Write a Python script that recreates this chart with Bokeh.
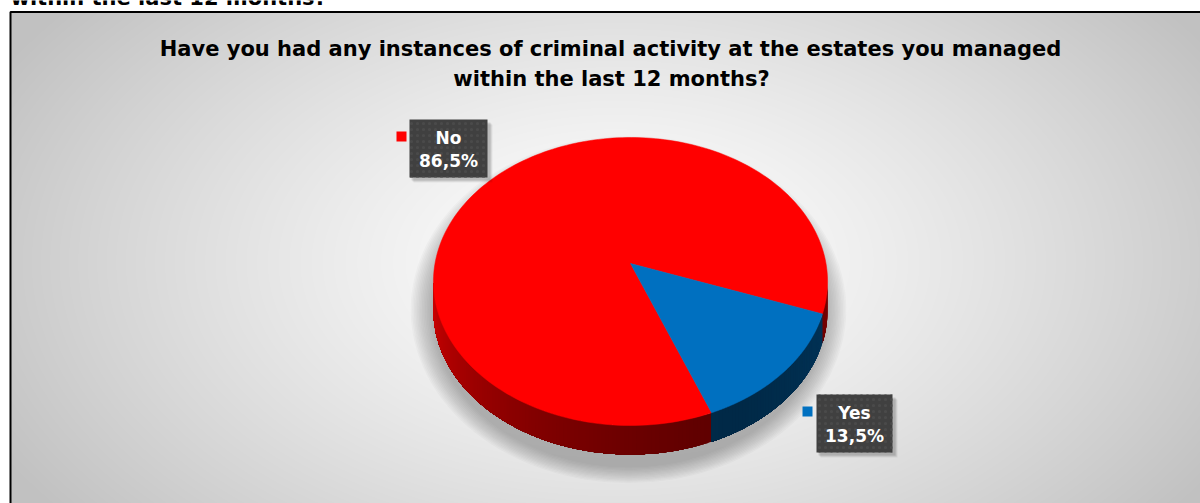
import numpy as np
from bokeh.plotting import figure
from bokeh.models import Range1d
from bokeh.core.properties import value
from bokeh.embed import file_html
from bokeh.resources import INLINE

# ---------------- data ----------------
title_lines = ["Have you had any instances of criminal activity at the estates you managed",
               "within the last 12 months?"]
clipped_heading = "within the last 12 months?"
categories = ["No", "Yes"]
shares = [86.5, 13.5]
share_labels = ["86,5%", "13,5%"]
slice_colors = ["#ff0000", "#0070c0"]
slice_rgb = [(255, 0, 0), (0, 112, 192)]

# ---------------- layout / style ----------------
W, H = 1200, 503
FONT = value("DejaVu Sans")
first_slice_angle = 158.5          # degrees clockwise from 12 o'clock
cx, cy = 630.0, 263.0              # projected pie centre (pixels)
A, B, K = 195.5, 141.75, 0.125     # perspective ellipse parameters
DEPTH = 29.0                       # pie thickness (pixels)

p = figure(width=W, height=H, x_range=Range1d(0, W), y_range=Range1d(H, 0),
           output_backend="svg", toolbar_location=None, min_border=0,
           x_axis_type=None, y_axis_type=None)
p.grid.visible = False
p.outline_line_color = None
p.background_fill_color = "white"
p.border_fill_color = "white"

# ---------------- background radial gradient ----------------
bx0, by0, bx1, by1 = 10, 11, 1200, 503
nx, ny = bx1 - bx0, by1 - by0
gx = np.arange(nx) + bx0 + 0.5
gy = np.arange(ny) + by0 + 0.5
GX, GY = np.meshgrid(gx, gy)
r = np.sqrt(((GX - 615) / 700.0) ** 2 + ((GY - 262) / 420.0) ** 2)
g = (255 - 62 * np.clip(r, 0, 1) ** 1.3).astype(np.uint8)
img = np.empty((ny, nx), dtype=np.uint32)
view = img.view(dtype=np.uint8).reshape((ny, nx, 4))
view[..., 0] = g
view[..., 1] = g
view[..., 2] = g
view[..., 3] = 255
p.image_rgba(image=[img], x=bx0, y=by0, dw=nx, dh=ny)

# frame border
p.line(x=[10, 10, 1201], y=[504, 11.5, 11.5], line_color="black", line_width=2)

# ---------------- pie geometry ----------------
def proj(phi_deg):
    ph = np.radians(phi_deg)
    X = np.cos(ph)
    Z = np.sin(ph)
    w = 1 - K * Z
    return cx + A * X / w, cy + B * Z / w

total = float(sum(shares))
starts, ends = [], []
acc = first_slice_angle
for s in shares:
    starts.append(acc - 90)
    acc += 360.0 * s / total
    ends.append(acc - 90)

# soft shadow under the pie
for i in range(14):
    p.ellipse(x=628, y=309, width=394 + 3.2 * i, height=316 + 2.4 * i,
              fill_color="#6a6a6a", fill_alpha=0.04, line_color=None)

# side wall: visible front arc, split by slice, shaded with overlapping bands
phi_lo = np.degrees(np.arcsin(K))
phi_hi = 180 - phi_lo

def shade(pm):
    if pm >= 60:
        t = min(1.0, (pm - 60) / (phi_hi - 60))
        return 0.37 + 0.45 * t ** 1.6
    return 0.37 + 0.1 * (60 - pm) / 53.0

for s0, e0, rgb in zip(starts, ends, slice_rgb):
    for off in (-360, 0, 360):
        a0 = max(s0 + off, phi_lo)
        a1 = min(e0 + off, phi_hi)
        if a1 <= a0:
            continue
        n = max(2, int((a1 - a0) / 1.0))
        marks = np.linspace(a0, a1, n + 1)
        xs_l, ys_l, cols = [], [], []
        for m in marks[:-1]:
            arc = np.linspace(m, a1, max(3, int((a1 - m) * 2)))
            ax, ay = proj(arc)
            xs_l.append(np.concatenate([ax, ax[::-1]]))
            ys_l.append(np.concatenate([ay, ay[::-1] + DEPTH]))
            f = shade(m + 0.5)
            cols.append("#%02x%02x%02x" % tuple(int(c * f) for c in rgb))
        p.patches(xs=xs_l, ys=ys_l, fill_color=cols, line_color=None)

# top faces
for s0, e0, col in zip(starts, ends, slice_colors):
    ang = np.linspace(s0, e0, 200)
    ax, ay = proj(ang)
    p.patch(x=np.concatenate([[cx], ax]), y=np.concatenate([[cy], ay]),
            fill_color=col, line_color=col, line_width=0.5)

# ---------------- data labels ----------------
label_boxes = [(409, 487, 119, 177), (816, 892, 394, 452)]
marker_boxes = [(396, 406, 131, 141), (802, 812, 406, 416)]
for (l, rr, t, b), (ml, mr, mt, mb), name, lab, col in zip(label_boxes, marker_boxes,
                                                         categories, share_labels, slice_colors):
    for d, al in ((5, 0.06), (4, 0.08), (3, 0.10)):
        p.quad(left=l + d - 1, right=rr + d, top=t + d, bottom=b + d,
               fill_color="#000000", fill_alpha=al, line_color=None)
    p.quad(left=l, right=rr, top=t, bottom=b, fill_color="#404040", line_color=None,
           hatch_pattern="dot", hatch_color="#4a4a4a", hatch_scale=6, hatch_weight=0.8)
    p.quad(left=ml, right=mr, top=mt, bottom=mb, fill_color=col, line_color=None)
    xc = 0.5 * (l + rr)
    p.text(x=[xc, xc], y=[t + 18, t + 41], text=[name, lab],
           text_font=FONT, text_font_style="bold", text_font_size="17px",
           text_color="white", text_align="center", text_baseline="middle")

# ---------------- titles ----------------
p.text(x=[610, 611], y=[48.5, 78], text=title_lines, text_font=FONT,
       text_font_style="bold", text_font_size="21px", text_color="black",
       text_align="center", text_baseline="middle")
p.text(x=[10], y=[-3], text=[clipped_heading], text_font=FONT,
       text_font_style="bold", text_font_size="21px", text_color="black",
       text_align="left", text_baseline="middle")

open("out.html", "w").write(file_html(p, INLINE))
